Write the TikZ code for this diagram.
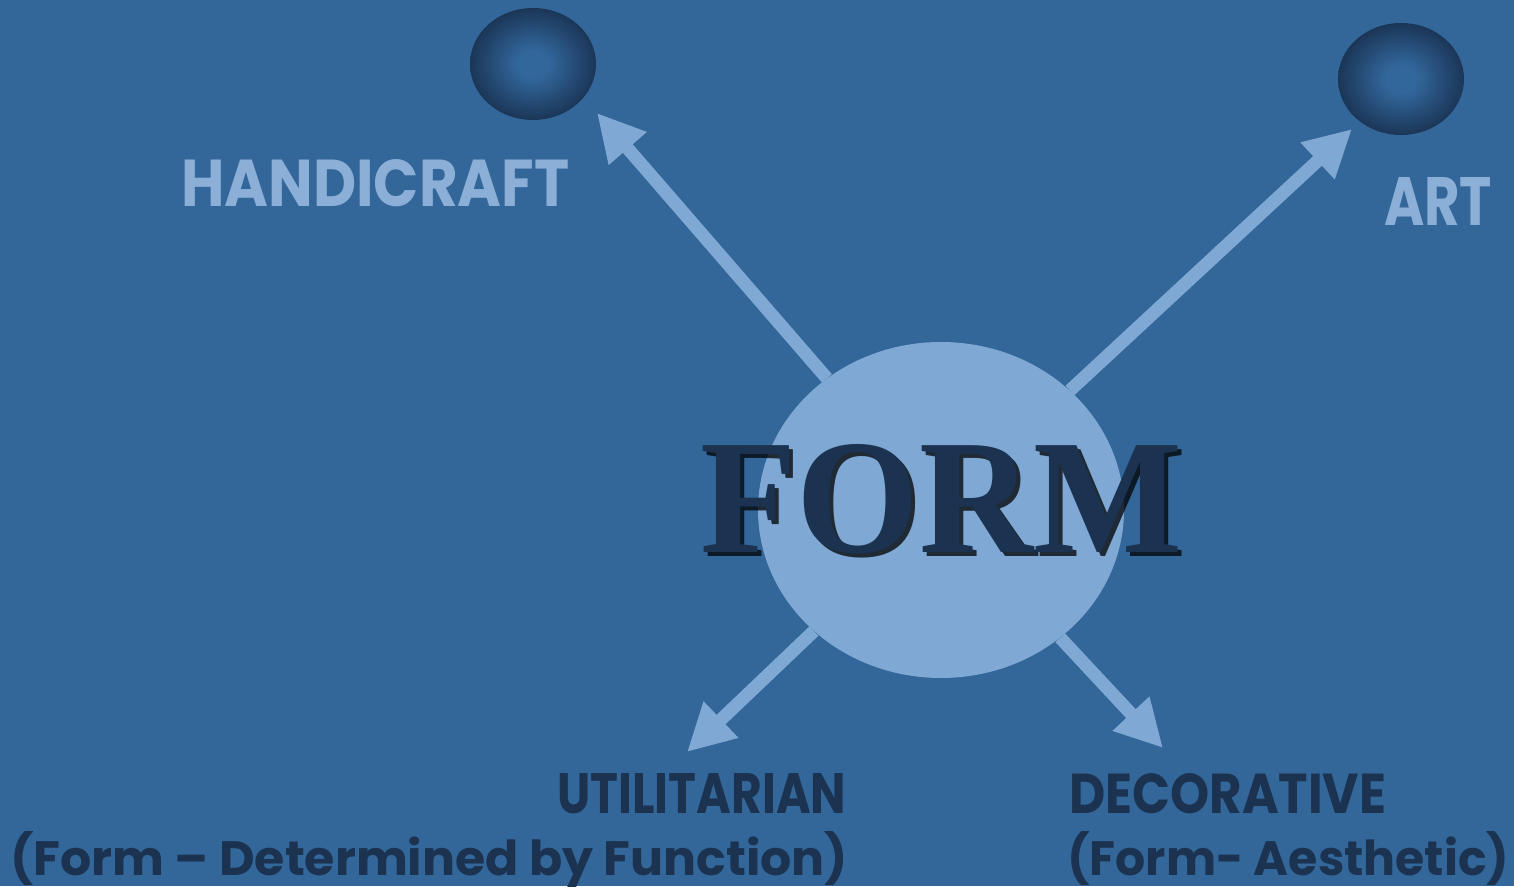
\documentclass[tikz,border=0pt]{standalone}
\usepackage{fontspec}
\usepackage{graphicx}
\usetikzlibrary{arrows.meta,shapes.geometric}
\newfontfamily\gothic{Poppins}
\newfontfamily\formfont{Liberation Serif}
\definecolor{bg}{RGB}{51,102,153}
\definecolor{lightb}{RGB}{127,169,212}
\definecolor{lighttxt}{RGB}{140,175,215}
\definecolor{navy}{RGB}{27,51,80}
\definecolor{sphin}{RGB}{50,103,156}
\definecolor{sphout}{RGB}{27,54,87}
\pgfdeclareradialshading{sphshade}{\pgfpoint{0bp}{0bp}}{color(0bp)=(sphin); color(6bp)=(sphin); color(25bp)=(sphout); color(50bp)=(sphout)}
\tikzset{
  conn/.style={draw=lightb, line width=13pt, -{Triangle[width=47pt,length=47pt]}},
  sphere/.style={ellipse, minimum width=126pt, minimum height=112pt, inner sep=0pt, shading=sphshade},
  lbl/.style={inner sep=0pt, anchor=base west, font=\gothic\bfseries},
  formlbl/.style={inner sep=0pt, anchor=base west},
}
\newcommand{\formword}{\resizebox{482pt}{108pt}{\formfont\bfseries FORM}}
\begin{document}
\begin{tikzpicture}[x=1pt,y=1pt]
\fill[bg] (0,0) rectangle (1514,886);
\useasboundingbox (0,0) rectangle (1514,886);
% spheres
\node[sphere] (s1) at (533,822) {};
\node[sphere] (s2) at (1401,807) {};
% central ellipse
\node[ellipse, fill=lightb, minimum width=366pt, minimum height=336pt, inner sep=0pt] (form) at (941,376) {};
% arrow tips
\coordinate (t1) at (597,773);
\coordinate (t2) at (1352,757);
\coordinate (t3) at (687,134);
\coordinate (t4) at (1163,138);
\draw[conn] (form) -- (t1);
\draw[conn] (form) -- (t2);
\draw[conn] (form) -- (t3);
\draw[conn] (form) -- (t4);
% FORM text with shadow
\node[formlbl, text=black, opacity=0.75] (formshadow) at (704,329) {\formword};
\node[formlbl, text=navy] (formtxt) at (700,333) {\formword};
% labels
\node[lbl, text=lighttxt] (hand) at (181,679) {\resizebox{388pt}{47pt}{HANDICRAFT}};
\node[lbl, text=lighttxt] (art) at (1384,660) {\resizebox{108pt}{48pt}{ART}};
\node[lbl, text=navy] (util) at (557,73) {\resizebox{289pt}{40pt}{UTILITARIAN}};
\node[lbl, text=navy] (util2) at (10,11) {\resizebox{838pt}{44pt}{(Form – Determined by Function)}};
\node[lbl, text=navy] (deco) at (1069,73) {\resizebox{317pt}{40pt}{DECORATIVE}};
\node[lbl, text=navy] (deco2) at (1067,11) {\resizebox{442pt}{44pt}{(Form- Aesthetic)}};
\end{tikzpicture}
\end{document}
